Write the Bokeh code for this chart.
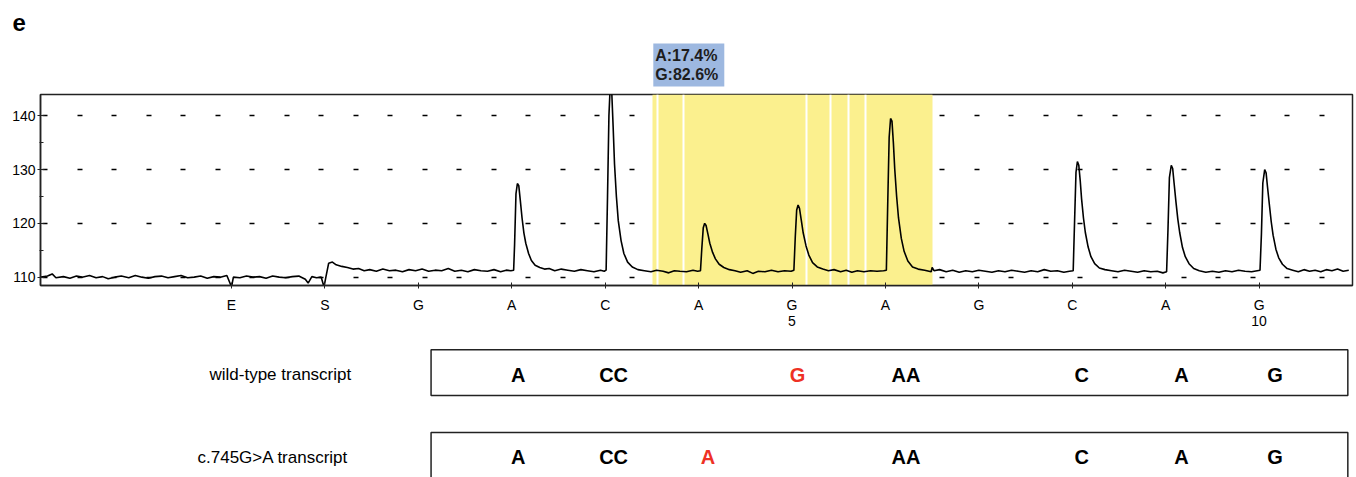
from bokeh.plotting import figure
from bokeh.layouts import column
from bokeh.models import Range1d, FixedTicker, SingleIntervalTicker, LinearAxis
from bokeh.embed import file_html
from bokeh.resources import INLINE
from bokeh.core.properties import value

# ---------------- data ----------------
dispensation = ["E", "S", "G", "A", "C", "A", "G", "A", "G", "C", "A", "G"]
disp_pos = [1, 2, 3, 4, 5, 6, 7, 8, 9, 10, 11, 12]
seq_number_pos = [7, 12]
seq_number_labels = ["5", "10"]

trace_x = [
    -1.04, -0.97, -0.92, -0.88, -0.80, -0.73, -0.66, -0.60, -0.52, -0.45, -0.38, -0.32,
    -0.25, -0.18, -0.10, -0.03, 0.04, 0.11, 0.18, 0.25, 0.32, 0.39, 0.46, 0.53, 0.60,
    0.67, 0.74, 0.81, 0.88, 0.95, 1.00, 1.02, 1.09, 1.16, 1.23, 1.30, 1.37, 1.44, 1.51,
    1.58, 1.65, 1.72, 1.79, 1.82, 1.86, 1.91, 1.96, 1.99, 2.01, 2.04, 2.08, 2.12, 2.18,
    2.24, 2.30, 2.36, 2.42, 2.48, 2.55, 2.62, 2.69, 2.76, 2.83, 2.90, 2.97, 3.04, 3.11,
    3.18, 3.25, 3.32, 3.39, 3.46, 3.53, 3.60, 3.67, 3.74, 3.81, 3.88, 3.94, 3.99,
    4.02, 4.03, 4.045, 4.06, 4.075, 4.09, 4.11, 4.13, 4.15, 4.18, 4.21, 4.25, 4.30, 4.35,
    4.40, 4.46, 4.53, 4.60, 4.67, 4.74, 4.81, 4.88, 4.95, 4.99,
    5.01, 5.025, 5.04, 5.055, 5.07, 5.085, 5.10, 5.12, 5.14, 5.17, 5.20, 5.24, 5.29, 5.35,
    5.42, 5.49, 5.55, 5.62, 5.68, 5.74, 5.80, 5.87, 5.94, 5.99,
    6.02, 6.035, 6.05, 6.065, 6.08, 6.10, 6.12, 6.15, 6.18, 6.22, 6.27, 6.33, 6.39, 6.45,
    6.52, 6.58, 6.64, 6.71, 6.78, 6.85, 6.92, 6.99,
    7.02, 7.035, 7.05, 7.065, 7.08, 7.10, 7.12, 7.15, 7.18, 7.22, 7.27, 7.33, 7.39, 7.45,
    7.52, 7.58, 7.64, 7.70, 7.77, 7.84, 7.91, 7.98,
    8.01, 8.025, 8.04, 8.055, 8.07, 8.085, 8.10, 8.12, 8.14, 8.17, 8.20, 8.24, 8.29, 8.35,
    8.42, 8.49, 8.50, 8.52, 8.58, 8.65, 8.72, 8.79, 8.86, 8.93, 9.00, 9.07, 9.14, 9.21,
    9.28, 9.35, 9.42, 9.49, 9.56, 9.63, 9.70, 9.77, 9.84, 9.91, 9.97,
    10.01, 10.025, 10.04, 10.055, 10.07, 10.085, 10.10, 10.12, 10.14, 10.17, 10.20, 10.24,
    10.29, 10.35, 10.42, 10.49, 10.56, 10.63, 10.70, 10.77, 10.84, 10.91, 10.97,
    11.01, 11.025, 11.04, 11.06, 11.075, 11.09, 11.11, 11.13, 11.15, 11.18, 11.21, 11.25,
    11.30, 11.36, 11.43, 11.50, 11.57, 11.64, 11.71, 11.78, 11.85, 11.92, 11.98,
    12.01, 12.025, 12.04, 12.06, 12.075, 12.09, 12.11, 12.13, 12.15, 12.18, 12.21, 12.25,
    12.30, 12.36, 12.42, 12.48, 12.54, 12.60, 12.66, 12.72, 12.78, 12.84, 12.90, 12.96,
]
trace_y = [
    110.0, 110.2, 110.6, 109.9, 110.1, 109.8, 110.2, 110.0, 110.3, 109.9, 110.1, 109.7,
    110.0, 110.2, 109.9, 110.3, 110.0, 109.8, 110.1, 110.2, 109.9, 110.1, 110.3, 109.9, 110.0,
    110.2, 109.8, 110.1, 110.0, 110.3, 108.2, 110.0, 109.9, 110.2, 110.0, 110.1, 109.8, 110.2, 110.0,
    109.9, 110.1, 110.2, 109.6, 108.9, 110.1, 109.9, 110.0, 108.2, 110.0, 112.6, 112.8, 112.3, 112.0,
    111.8, 111.5, 111.6, 111.2, 111.4, 111.1, 111.5, 111.2, 111.3, 111.0, 111.4, 111.2, 111.5, 111.1,
    111.3, 111.2, 111.6, 111.1, 111.3, 111.0, 111.4, 111.2, 111.1, 111.4, 111.0, 111.3, 111.2,
    111.3, 116.0, 125.5, 127.4, 127.0, 124.5, 121.0, 118.2, 116.3, 114.4, 113.1, 112.2, 111.8, 111.5,
    111.6, 111.2, 111.5, 111.3, 111.1, 111.4, 111.2, 111.0, 111.3, 111.1,
    111.3, 125.0, 140.0, 146.0, 144.5, 138.0, 131.0, 125.0, 120.5, 116.8, 114.4, 112.8, 111.9, 111.4,
    111.2, 111.0, 111.3, 111.1, 110.8, 111.2, 111.1, 111.0, 111.3, 111.1,
    111.2, 115.5, 119.2, 120.0, 119.6, 118.0, 116.3, 114.6, 113.4, 112.4, 111.8, 111.4, 111.2, 110.9,
    111.2, 110.7, 111.1, 111.0, 111.3, 111.0, 111.2, 111.1,
    111.3, 117.5, 122.5, 123.4, 122.8, 120.5, 118.2, 115.8, 114.1, 112.7, 111.9, 111.5, 111.2, 111.4,
    111.0, 111.3, 110.9, 111.2, 111.0, 111.2, 111.1, 111.2,
    111.3, 124.0, 136.0, 139.5, 139.0, 135.0, 130.0, 125.0, 121.0, 117.2, 114.8, 113.0, 111.9, 111.5,
    111.3, 111.0, 111.8, 111.2, 111.4, 111.0, 111.3, 110.9, 111.2, 111.0, 111.3, 111.1, 110.9, 111.2,
    111.0, 111.3, 111.1, 110.9, 111.2, 111.0, 111.4, 111.1, 111.2, 110.9, 111.1,
    111.2, 120.5, 129.5, 131.5, 130.8, 128.0, 124.5, 121.0, 118.3, 115.6, 113.8, 112.5,
    111.7, 111.4, 111.2, 111.0, 111.3, 111.1, 110.9, 111.2, 111.0, 111.1, 110.8,
    111.0, 119.0, 128.5, 130.8, 130.2, 127.5, 124.0, 120.8, 118.3, 115.5, 113.8, 112.5,
    111.6, 111.2, 110.9, 111.1, 110.9, 111.2, 111.0, 111.3, 111.1, 111.0, 111.2,
    111.3, 118.0, 127.5, 130.0, 129.4, 126.8, 123.5, 120.3, 117.8, 115.2, 113.6, 112.4,
    111.6, 111.3, 111.0, 111.4, 111.1, 111.3, 111.0, 111.4, 111.2, 111.5, 111.1, 111.3,
]

snp_region = [5.51, 8.50]
region_separators = [5.56, 5.84, 7.15, 7.41, 7.60, 7.79]
snp_result = "A:17.4%\nG:82.6%"
snp_box = [5.515, 6.275]
panel_letter = "e"

row_labels = ["wild-type transcript", "c.745G>A transcript"]
row_label_pos = [0.764, 0.636]
row_y = [1, 0]
wt_bases = ["A", "CC", "G", "AA", "C", "A", "G"]
wt_base_pos = [4.07, 5.09, 7.06, 8.22, 10.10, 11.17, 12.17]
wt_base_colors = ["black", "black", "#ee3124", "black", "black", "black", "black"]
mut_bases = ["A", "CC", "A", "AA", "C", "A", "G"]
mut_base_pos = [4.07, 5.09, 6.10, 8.22, 10.10, 11.17, 12.17]
mut_base_colors = ["black", "black", "#ee3124", "black", "black", "black", "black"]
box_span = [3.136, 12.95]

FONT = "Liberation Sans"
W = 1356
LEFT, RIGHT = 40, 4

xr = Range1d(-1.045, 13.0)

# ---------------- top strip: panel letter and SNP result ----------------
t = figure(width=W, height=93, x_range=xr, y_range=Range1d(0, 53),
           output_backend="svg", toolbar_location=None, x_axis_type=None, y_axis_type=None,
           min_border_left=LEFT, min_border_right=RIGHT, min_border_top=40, min_border_bottom=0)
t.outline_line_color = None
t.grid.visible = False
t.title.text = panel_letter
t.title.text_font = FONT
t.title.text_font_size = "24px"
t.title.text_font_style = "bold"
t.title.text_color = "black"
t.title.align = "left"
t.title.offset = -28
t.title.standoff = 19
t.quad(left=[snp_box[0]], right=[snp_box[1]], bottom=[7], top=[50],
       fill_color="#9db8e0", line_color=None)
t.text(x=[snp_box[0] + 0.02], y=[28.5], text=[snp_result], text_font=value(FONT),
       text_font_size="16px", text_font_style="bold", text_color="#1d1d1d",
       text_align="left", text_baseline="middle", text_line_height=1.1)

# ---------------- pyrogram ----------------
p = figure(width=W, height=247, x_range=xr, y_range=Range1d(108.45, 143.95),
           output_backend="svg", toolbar_location=None,
           min_border_left=LEFT, min_border_right=RIGHT, min_border_top=1, min_border_bottom=55)
p.background_fill_color = "white"
p.border_fill_color = "white"
p.outline_line_color = "#222222"
p.outline_line_width = 1.5

p.xgrid.visible = False
p.ygrid.grid_line_color = "black"
p.ygrid.grid_line_width = 1.5
p.ygrid.grid_line_dash = "5 30 5 29"
p.ygrid.grid_line_dash_offset = 67

p.yaxis.ticker = SingleIntervalTicker(interval=10, num_minor_ticks=2)
p.yaxis.major_tick_in = 4
p.yaxis.major_tick_out = 3
p.yaxis.minor_tick_in = 3
p.yaxis.minor_tick_out = 1
p.yaxis.major_label_standoff = 2
p.yaxis.major_label_text_font = FONT
p.yaxis.major_label_text_font_size = "14px"
p.yaxis.major_label_text_color = "black"

p.xaxis.ticker = FixedTicker(ticks=disp_pos)
p.xaxis.major_label_overrides = {k: s for k, s in zip(disp_pos, dispensation)}
p.xaxis.major_tick_in = 3
p.xaxis.major_tick_out = 3
p.xaxis.major_label_standoff = 8
p.xaxis.major_label_text_font = FONT
p.xaxis.major_label_text_font_size = "14px"
p.xaxis.major_label_text_color = "black"
p.axis.axis_line_color = "#222222"
p.axis.axis_line_width = 1.5
p.axis.major_tick_line_color = "#222222"
p.axis.minor_tick_line_color = "#222222"
p.xaxis.minor_tick_line_color = None

num_axis = LinearAxis(ticker=FixedTicker(ticks=seq_number_pos),
                      major_label_overrides={k: s for k, s in zip(seq_number_pos, seq_number_labels)},
                      axis_line_color=None, major_tick_line_color=None, minor_tick_line_color=None,
                      major_tick_in=0, major_tick_out=0, major_label_standoff=0,
                      major_label_text_font=FONT, major_label_text_font_size="14px",
                      major_label_text_color="black")
p.add_layout(num_axis, "below")

p.vstrip(x0=[snp_region[0]], x1=[snp_region[1]], fill_color="#fbf08e", line_color=None)
p.vspan(x=region_separators, line_color="white", line_width=2)
p.line(trace_x, trace_y, line_color="black", line_width=1.6)

# ---------------- transcripts ----------------
q = figure(width=W, height=137, x_range=xr, y_range=Range1d(-0.245, 1.411),
           output_backend="svg", toolbar_location=None, x_axis_type=None, y_axis_type=None,
           min_border_left=LEFT, min_border_right=RIGHT, min_border_top=0, min_border_bottom=0)
q.outline_line_color = None
q.background_fill_color = "white"
q.border_fill_color = "white"
q.grid.visible = False

q.quad(left=[box_span[0]] * 2, right=[box_span[1]] * 2,
       top=[r + 0.3 for r in row_y], bottom=[r - 0.254 for r in row_y],
       fill_color=None, line_color="#222222", line_width=1.5)
q.text(x=row_label_pos, y=row_y, text=row_labels, text_font=value(FONT),
       text_font_size="17px", text_color="black", text_align="left", text_baseline="middle")
q.text(x=wt_base_pos, y=[row_y[0]] * len(wt_bases), text=wt_bases, text_color=wt_base_colors,
       text_font=value(FONT), text_font_size="20px", text_font_style="bold",
       text_align="center", text_baseline="middle")
q.text(x=mut_base_pos, y=[row_y[1]] * len(mut_bases), text=mut_bases, text_color=mut_base_colors,
       text_font=value(FONT), text_font_size="20px", text_font_style="bold",
       text_align="center", text_baseline="middle")

layout = column(t, p, q)
open("out.html", "w").write(file_html(layout, INLINE))
